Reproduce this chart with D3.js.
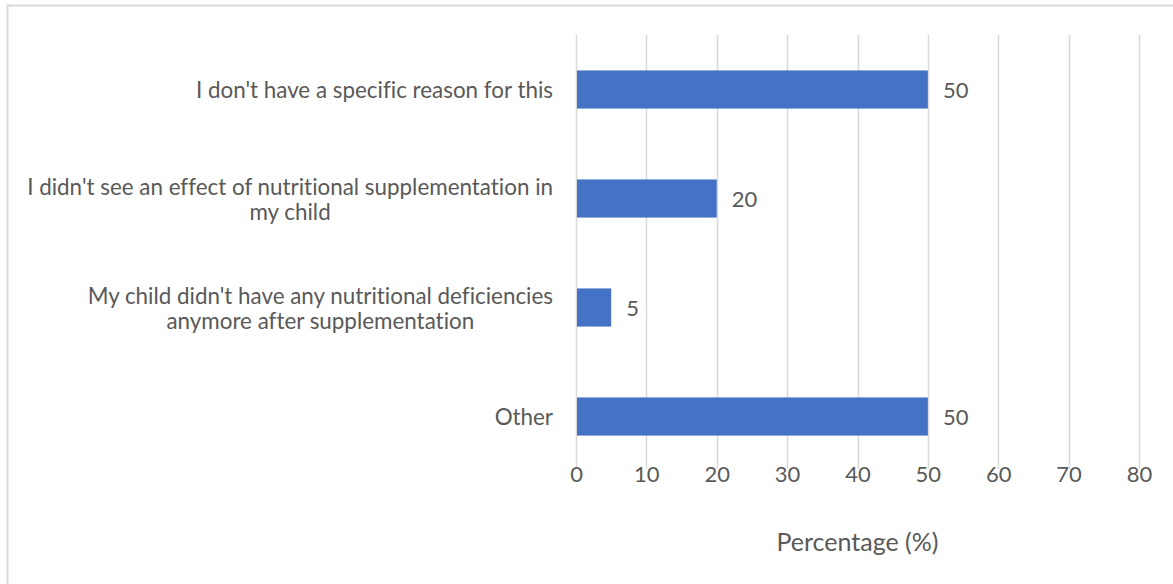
<!DOCTYPE html>
<html>
<head>
<meta charset="utf-8">
<script src="https://cdn.jsdelivr.net/npm/d3@7"></script>
<style>
  html, body { margin: 0; padding: 0; background: #fff; }
  svg { display: block; }
  text { font-family: Lato, "Open Sans", sans-serif; fill: #595959; font-variant-ligatures: none; }
</style>
</head>
<body>
<svg id="chart" width="1173" height="584"></svg>
<script>
// Reasons for stopping supplementation (each line of a label is a separate entry)
const categories = [
  ["I don't have a specific reason for this"],
  ["I didn't see an effect of nutritional supplementation in", "my child"],
  ["My child didn't have any nutritional deficiencies", "anymore after supplementation"],
  ["Other"]
];
const values = [50, 20, 5, 50];
const tickValues = [0, 10, 20, 30, 40, 50, 60, 70, 80];
const axisTitle = "Percentage (%)";

const W = 1173, H = 584;
const margin = { left: 576, right: 34, top: 35, bottom: 113 };
const svg = d3.select("#chart");

// chart frame
svg.append("rect")
  .attr("x", 7.5).attr("y", 5.5)
  .attr("width", W + 20).attr("height", H + 20)
  .attr("fill", "none").attr("stroke", "#d9d9d9").attr("stroke-width", 2);

const x = d3.scaleLinear().domain([0, 80]).range([margin.left, W - margin.right]);
const y = d3.scaleBand()
  .domain(d3.range(categories.length))
  .range([margin.top, H - margin.bottom])
  .paddingInner(0.65).paddingOuter(0.325);

// vertical gridlines
svg.append("g").selectAll("line").data(tickValues).join("line")
  .attr("x1", d => Math.round(x(d)) + 0.5).attr("x2", d => Math.round(x(d)) + 0.5)
  .attr("y1", margin.top).attr("y2", H - margin.bottom - 2)
  .attr("stroke", "#d9d9d9").attr("stroke-width", 1.5);

// x axis tick labels
const xAxis = d3.axisBottom(x).tickValues(tickValues).tickSize(0).tickPadding(0);
const gx = svg.append("g").attr("transform", `translate(0, ${H - margin.bottom + 4})`).call(xAxis);
gx.select(".domain").remove();
gx.selectAll("text")
  .attr("dy", "0.32em").attr("y", 0)
  .style("font-size", "22px").style("fill", "#595959")
  .style("font-family", "Lato, sans-serif");

// axis title
svg.append("text")
  .attr("x", (x(0) + x(80)) / 2).attr("y", 541)
  .attr("text-anchor", "middle").attr("dominant-baseline", "central")
  .style("font-size", "25px")
  .text(axisTitle);

// bars
svg.append("g").selectAll("rect").data(values).join("rect")
  .attr("x", x(0) + 1)
  .attr("y", (d, i) => y(i))
  .attr("width", d => x(d) - x(0) - 1)
  .attr("height", y.bandwidth())
  .attr("fill", "#4472c4");

// value labels
svg.append("g").selectAll("text").data(values).join("text")
  .attr("x", d => x(d) + 15)
  .attr("y", (d, i) => y(i) + y.bandwidth() / 2)
  .attr("dominant-baseline", "central")
  .style("font-size", "22px")
  .text(d => d);

// category labels: block right-aligned to the axis, lines centred within the block
const labelRight = 553, lineH = 25;
categories.forEach((lines, i) => {
  const cy = y(i) + y.bandwidth() / 2;
  const g = svg.append("g");
  const texts = lines.map((line, j) => g.append("text")
    .attr("y", cy + (j - (lines.length - 1) / 2) * lineH)
    .attr("dominant-baseline", "central")
    .attr("text-anchor", "middle")
    .style("font-size", "22.4px")
    .text(line));
  const widths = texts.map(t => t.node().getComputedTextLength());
  const blockW = d3.max(widths);
  texts.forEach(t => t.attr("x", labelRight - blockW / 2));
});
</script>
</body>
</html>
